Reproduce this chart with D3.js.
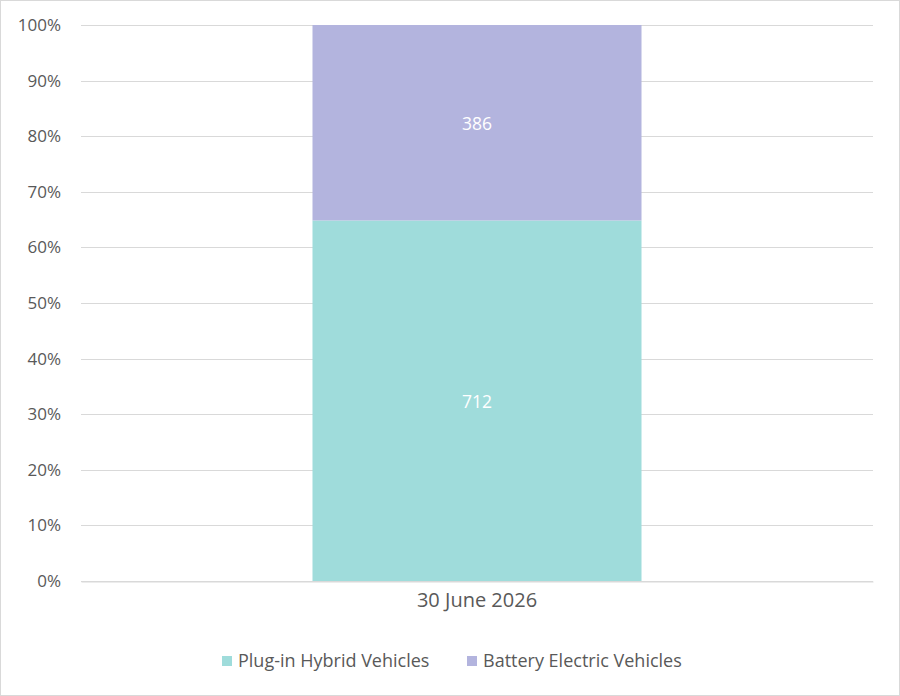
<!DOCTYPE html>
<html>
<head>
<meta charset="utf-8">
<script src="https://cdn.jsdelivr.net/npm/d3@7"></script>
<style>
  body { margin: 0; background: #fff; }
  svg { display: block; font-family: "Open Sans", "Noto Sans", sans-serif; }
</style>
</head>
<body>
<div id="chart"></div>
<script>
const width = 900
const height = 696

const categories = ["30 June 2026"]
const seriesNames = ["Plug-in Hybrid Vehicles", "Battery Electric Vehicles"]
const phevValues = [712]
const bevValues = [386]
const yTicks = [0, 0.1, 0.2, 0.3, 0.4, 0.5, 0.6, 0.7, 0.8, 0.9, 1]

const colors = ["#9fdcdb", "#b3b4de"]
const textColor = "#595959"

const margin = { top: 25, right: 27, bottom: 115, left: 81 }

// rows for the stack: one per category, as shares of the total
const rows = categories.map((c, i) => {
  const total = phevValues[i] + bevValues[i]
  return {
    category: c,
    [seriesNames[0]]: phevValues[i] / total,
    [seriesNames[1]]: bevValues[i] / total,
    raw: [phevValues[i], bevValues[i]]
  }
})

const stack = d3.stack().keys(seriesNames)
const stacked = stack(rows)

const x = d3.scaleBand()
  .domain(categories)
  .range([margin.left, width - margin.right])
  .padding(0.413)

const y = d3.scaleLinear()
  .domain([0, 1])
  .range([height - margin.bottom, margin.top])

const svg = d3.select("#chart").append("svg")
  .attr("width", width)
  .attr("height", height)

// outer border
svg.append("rect")
  .attr("x", 0.5).attr("y", 0.5)
  .attr("width", width - 1).attr("height", height - 1)
  .attr("fill", "#fff")
  .attr("stroke", "#d9d9d9")

// gridlines
svg.append("g")
  .selectAll("line")
  .data(yTicks)
  .join("line")
  .attr("x1", margin.left)
  .attr("x2", width - margin.right)
  .attr("y1", d => Math.round(y(d)) + 0.5)
  .attr("y2", d => Math.round(y(d)) + 0.5)
  .attr("stroke", "#d9d9d9")
  .attr("stroke-width", 1)

// y axis labels
const yAxis = d3.axisLeft(y)
  .tickValues(yTicks)
  .tickFormat(d3.format(".0%"))
  .tickSize(0)
  .tickPadding(20)

svg.append("g")
  .attr("transform", `translate(${margin.left},0)`)
  .call(yAxis)
  .call(g => g.select(".domain").remove())
  .call(g => g.selectAll("text")
    .attr("fill", textColor)
    .style("font-size", "17px")
    .style("font-family", "\"Open Sans\", sans-serif"))

// bars
const layer = svg.append("g")
  .selectAll("g")
  .data(stacked)
  .join("g")
  .attr("fill", (d, i) => colors[i])

layer.selectAll("rect")
  .data(d => d)
  .join("rect")
  .attr("x", d => x(d.data.category))
  .attr("width", x.bandwidth())
  .attr("y", d => y(d[1]))
  .attr("height", d => y(d[0]) - y(d[1]))

// data labels
stacked.forEach((s, si) => {
  svg.append("g")
    .selectAll("text")
    .data(s)
    .join("text")
    .attr("x", d => x(d.data.category) + x.bandwidth() / 2)
    .attr("y", d => (y(d[0]) + y(d[1])) / 2 + 1)
    .attr("dy", "0.35em")
    .attr("text-anchor", "middle")
    .attr("fill", "#fff")
    .style("font-size", "17.5px")
    .text(d => d.data.raw[si])
})

// x axis
const xAxis = d3.axisBottom(x).tickSize(0).tickPadding(11)
svg.append("g")
  .attr("transform", `translate(0,${Math.round(y(0)) + 0.5})`)
  .call(xAxis)
  .call(g => g.select(".domain").attr("stroke", "#d9d9d9"))
  .call(g => g.selectAll("text")
    .attr("fill", textColor)
    .style("font-size", "20px")
    .style("font-family", "\"Open Sans\", sans-serif"))

// legend
const legendY = 661
const legendX = [222, 467]
const legend = svg.append("g")
  .selectAll("g")
  .data(seriesNames)
  .join("g")
  .attr("transform", (d, i) => `translate(${legendX[i]},${legendY})`)

legend.append("rect")
  .attr("x", 0).attr("y", -5)
  .attr("width", 10).attr("height", 10)
  .attr("fill", (d, i) => colors[i])

legend.append("text")
  .attr("x", 16)
  .attr("dy", "0.35em")
  .attr("fill", textColor)
  .style("font-size", "18px")
  .text(d => d)
</script>
</body>
</html>
